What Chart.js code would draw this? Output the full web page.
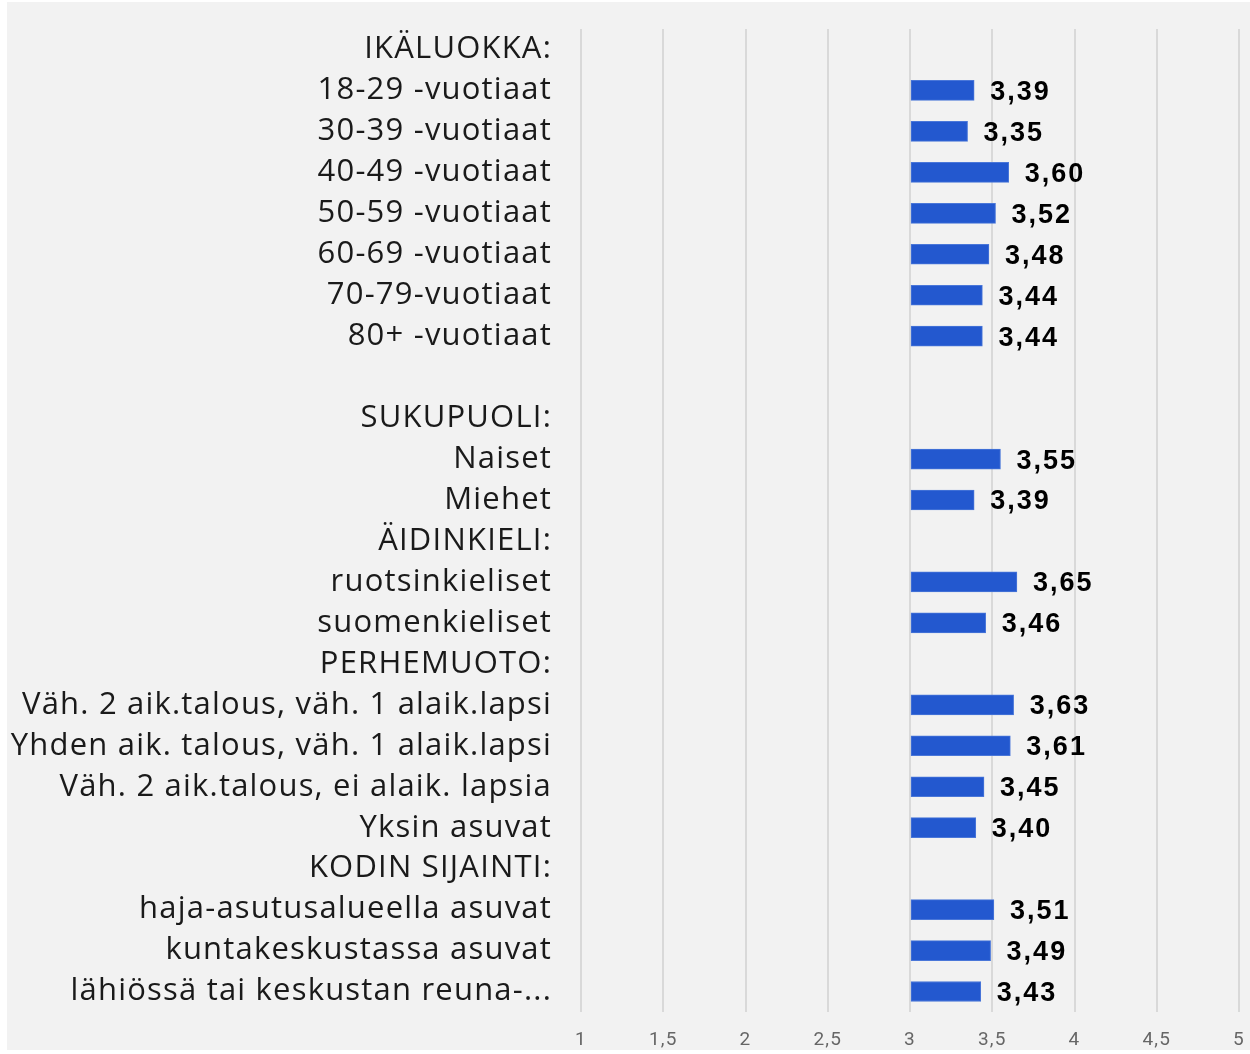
<!DOCTYPE html>
<html>
<head>
<meta charset="utf-8">
<script src="https://cdn.jsdelivr.net/npm/chart.js@4/dist/chart.umd.min.js"></script>
<style>
  html, body { margin: 0; padding: 0; background: #fff; }
  #wrap { position: absolute; left: 7px; top: 2px; width: 1243px; height: 1048px; background: #f2f2f2; }
</style>
</head>
<body>
<div id="wrap"><canvas id="chart"></canvas></div>
<script>
// Category rows (headings have no value)
const categories = [
  'IKÄLUOKKA:',
  '18-29 -vuotiaat',
  '30-39 -vuotiaat',
  '40-49 -vuotiaat',
  '50-59 -vuotiaat',
  '60-69 -vuotiaat',
  '70-79-vuotiaat',
  '80+ -vuotiaat',
  '',
  'SUKUPUOLI:',
  'Naiset',
  'Miehet',
  'ÄIDINKIELI:',
  'ruotsinkieliset',
  'suomenkieliset',
  'PERHEMUOTO:',
  'Väh. 2 aik.talous, väh. 1 alaik.lapsi',
  'Yhden aik. talous, väh. 1 alaik.lapsi',
  'Väh. 2 aik.talous, ei alaik. lapsia',
  'Yksin asuvat',
  'KODIN SIJAINTI:',
  'haja-asutusalueella asuvat',
  'kuntakeskustassa asuvat',
  'lähiössä tai keskustan reuna-...'
];

const values = [
  null,
  3.39, 3.35, 3.60, 3.52, 3.48, 3.44, 3.44,
  null,
  null,
  3.55, 3.39,
  null,
  3.65, 3.46,
  null,
  3.63, 3.61, 3.45, 3.40,
  null,
  3.51, 3.49, 3.43
];

const xTicks = [1, 1.5, 2, 2.5, 3, 3.5, 4, 4.5, 5];
const barBase = 3;

const fmt = v => v.toFixed(2).replace('.', ',');

// the category font is spaced out a bit in the original
const spacing = {
  id: 'spacing',
  beforeDraw(chart) { chart.ctx.letterSpacing = '1.2px'; },
  afterDraw(chart) { chart.ctx.letterSpacing = '0px'; }
};

// draws the bold value next to each bar
const valueLabels = {
  id: 'valueLabels',
  afterDatasetsDraw(chart) {
    const ctx = chart.ctx;
    const meta = chart.getDatasetMeta(0);
    ctx.save();
    ctx.font = 'bold 27px "Liberation Sans", Arial, sans-serif';
    ctx.letterSpacing = '2px';
    ctx.fillStyle = '#000';
    ctx.textAlign = 'left';
    ctx.textBaseline = 'middle';
    meta.data.forEach((bar, i) => {
      const v = values[i];
      if (v == null) return;
      ctx.fillText(fmt(v), bar.x + 16, bar.y + 2);
    });
    ctx.restore();
  }
};

new Chart(document.getElementById('chart'), {
  type: 'bar',
  data: {
    labels: categories,
    datasets: [{
      data: values,
      base: barBase,
      backgroundColor: '#2358cf',
      borderColor: '#4a77d9',
      borderWidth: 1,
      borderSkipped: false,
      barThickness: 20
    }]
  },
  options: {
    indexAxis: 'y',
    responsive: true,
    maintainAspectRatio: false,
    animation: false,
    layout: { padding: { top: 27, right: 11, bottom: 0, left: 0 } },
    plugins: {
      legend: { display: false },
      tooltip: { enabled: false }
    },
    scales: {
      x: {
        min: 1,
        max: 5,
        afterBuildTicks(scale) {
          scale.ticks = xTicks.map(v => ({ value: v }));
        },
        afterFit(scale) {
          scale.height = 38;
          scale.paddingLeft = 0;
          scale.paddingRight = 0;
        },
        border: { display: false },
        grid: { color: '#d9d9d9', lineWidth: 2, drawTicks: false },
        ticks: {
          color: '#666',
          padding: 17,
          maxRotation: 0,
          font: { family: 'Roboto', size: 19 },
          callback: v => String(v).replace('.', ',')
        }
      },
      y: {
        afterFit(scale) {
          scale.width = 574;
          scale.paddingTop = 0;
          scale.paddingBottom = 0;
        },
        border: { display: false },
        grid: { display: false, drawTicks: false },
        ticks: {
          color: '#1a1a1a',
          padding: 29,
          autoSkip: false,
          font: { family: '"Open Sans"', size: 31 }
        }
      }
    }
  },
  plugins: [spacing, valueLabels]
});
</script>
</body>
</html>
